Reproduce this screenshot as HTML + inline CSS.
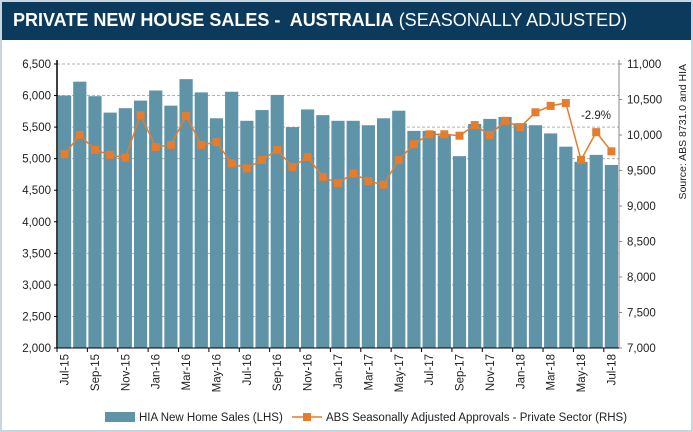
<!DOCTYPE html>
<html><head><meta charset="utf-8"><style>
body{margin:0;background:#fff;}
#wrap{position:relative;width:693px;height:432px;overflow:hidden;font-family:"Liberation Sans",sans-serif;}
#title{position:absolute;left:0;top:0;width:693px;height:40px;background:#0b3a5c;color:#fff;font-size:18px;line-height:40px;padding-left:13px;box-sizing:border-box;}
#title b{font-weight:bold;}
svg{position:absolute;left:0;top:0;}
text{font-family:"Liberation Sans",sans-serif;}
</style></head><body>
<div id="wrap">
<div id="title"><b>PRIVATE NEW HOUSE SALES -&nbsp; AUSTRALIA</b> (SEASONALLY ADJUSTED)</div>
<svg id="chart" width="693" height="432"></svg>
</div>
<script>
const categories=["Jul-15","Aug-15","Sep-15","Oct-15","Nov-15","Dec-15","Jan-16","Feb-16","Mar-16","Apr-16","May-16","Jun-16","Jul-16","Aug-16","Sep-16","Oct-16","Nov-16","Dec-16","Jan-17","Feb-17","Mar-17","Apr-17","May-17","Jun-17","Jul-17","Aug-17","Sep-17","Oct-17","Nov-17","Dec-17","Jan-18","Feb-18","Mar-18","Apr-18","May-18","Jun-18","Jul-18"];
const salesValues=[6000,6220,5990,5730,5800,5920,6080,5840,6260,6050,5640,6060,5600,5770,6010,5500,5780,5690,5600,5600,5530,5640,5760,5440,5440,5370,5040,5550,5630,5660,5560,5530,5400,5190,4950,5060,4900];
const approvalValues=[9730,10000,9790,9720,9680,10280,9830,9860,10270,9860,9900,9600,9530,9650,9790,9550,9690,9410,9320,9460,9350,9300,9650,9870,10010,10010,9990,10140,10000,10200,10110,10320,10410,10450,9650,10040,9770];
const leftTicks=[2000,2500,3000,3500,4000,4500,5000,5500,6000,6500];
const rightTicks=[7000,7500,8000,8500,9000,9500,10000,10500,11000];

const svg=document.getElementById('chart');
const NS='http://www.w3.org/2000/svg';
const X0=57,X1=619,YT=64,YB=348;
const n=categories.length,step=(X1-X0)/n;
const yL=v=>YB-(v-2000)/4500*(YB-YT);
const yR=v=>YB-(v-7000)/4000*(YB-YT);
const xc=i=>X0+step*(i+0.5);
function mk(t,a){const e=document.createElementNS(NS,t);for(const k in a)e.setAttribute(k,a[k]);svg.appendChild(e);return e;}

let fr=mk('rect',{x:0.5,y:0.5,width:692,height:431,fill:'none',stroke:'#c9d6e0','stroke-width':3});


leftTicks.forEach(v=>{
  const y=yL(v);
  if(v>2000){const g=mk('line',{x1:X0,x2:X1,y1:y,y2:y,stroke:'#b0b0b0','stroke-dasharray':'3,2','stroke-width':1});
  }
  const t=mk('text',{x:X0-6,y:y+4,'text-anchor':'end','font-size':11.5,fill:'#222'});t.textContent=v.toLocaleString('en-US');
  
  mk('line',{x1:X0-3,x2:X0,y1:y,y2:y,stroke:'#000'});
});
rightTicks.forEach(v=>{
  const y=yR(v);
  const t=mk('text',{x:X1+8,y:y+4,'font-size':11.5,fill:'#222'});t.textContent=v.toLocaleString('en-US');
  
  mk('line',{x1:X1,x2:X1+3,y1:y,y2:y,stroke:'#888'});
});

salesValues.forEach((v,i)=>{
  const r=mk('rect',{x:X0+step*i+1,y:yL(v),width:step-2,height:YB-yL(v),fill:'#5f93a7'});
  
  
});
let pts=approvalValues.map((v,i)=>xc(i)+','+yR(v)).join(' ');
let pl=mk('polyline',{points:pts,fill:'none',stroke:'#e57c2e','stroke-width':1.5});

approvalValues.forEach((v,i)=>{
  const m=mk('rect',{x:xc(i)-4,y:yR(v)-4,width:8,height:8,fill:'#e57c2e'});
  
  
});

let la=mk('line',{x1:X0,x2:X0,y1:YT-4,y2:YB,stroke:'#000','stroke-width':1.5});

let ra=mk('line',{x1:X1,x2:X1,y1:YT-4,y2:YB,stroke:'#888','stroke-width':1});

let xa=mk('line',{x1:X0,x2:X1,y1:YB,y2:YB,stroke:'#000','stroke-width':1});


categories.forEach((c,i)=>{
  if(i%2)return;
  const x=xc(i);
  mk('line',{x1:X0+step*i,x2:X0+step*i,y1:YB,y2:YB+4,stroke:'#000'});
  const t=mk('text',{x:x+4,y:YB+6,'font-size':11.5,fill:'#222','text-anchor':'end',transform:`rotate(-90 ${x+4} ${YB+6})`});
  t.textContent=c;
  
});

let an=mk('text',{x:611,y:119,'text-anchor':'end','font-size':11.5,fill:'#222'});an.textContent='-2.9%';

let src=mk('text',{x:686,y:64,'font-size':10.5,fill:'#222','text-anchor':'end',transform:'rotate(-90 686 64)'});src.textContent='Source: ABS 8731.0 and HIA';


let lb=mk('rect',{x:105,y:412,width:30,height:10,fill:'#5f93a7'});

let lt=mk('text',{x:139,y:421,'font-size':11.5,fill:'#222'});lt.textContent='HIA New Home Sales (LHS)';

mk('line',{x1:292,x2:322,y1:417,y2:417,stroke:'#e57c2e','stroke-width':1.5});
mk('rect',{x:303,y:413,width:8,height:8,fill:'#e57c2e'});
let lt2=mk('text',{x:326,y:421,'font-size':11.5,fill:'#222'});lt2.textContent='ABS Seasonally Adjusted Approvals - Private Sector (RHS)';

</script>
</body></html>
